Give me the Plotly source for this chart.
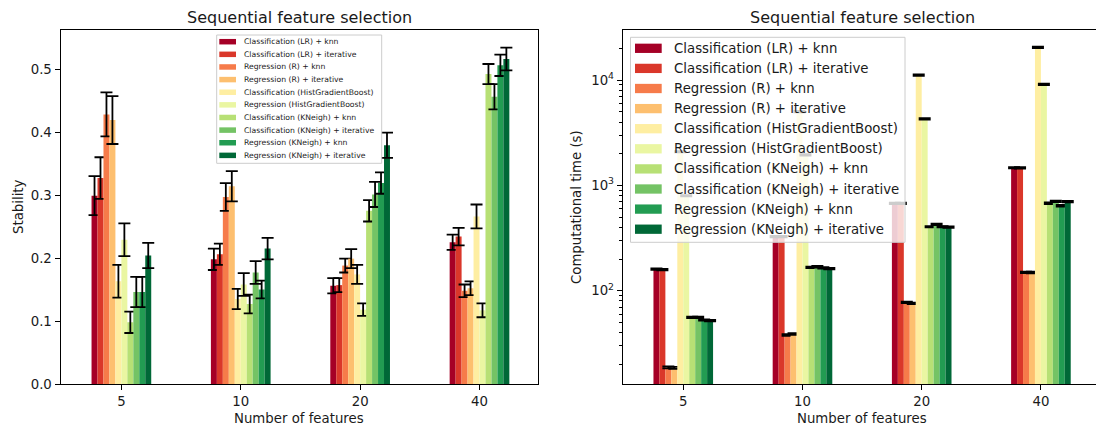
import plotly.graph_objects as go

# ---- data -------------------------------------------------------------
n_features = ["5", "10", "20", "40"]

series_names = [
    "Classification (LR) + knn",
    "Classification (LR) + iterative",
    "Regression (R) + knn",
    "Regression (R) + iterative",
    "Classification (HistGradientBoost)",
    "Regression (HistGradientBoost)",
    "Classification (KNeigh) + knn",
    "Classification (KNeigh) + iterative",
    "Regression (KNeigh) + knn",
    "Regression (KNeigh) + iterative",
]

# stability (mean, std) per number of features
stab_lr_knn = [0.299, 0.198, 0.156, 0.225]
stab_lr_iter = [0.327, 0.206, 0.157, 0.234]
stab_r_knn = [0.428, 0.297, 0.188, 0.148]
stab_r_iter = [0.419, 0.314, 0.199, 0.152]
stab_hgb_clf = [0.163, 0.135, 0.174, 0.266]
stab_hgb_reg = [0.229, 0.158, 0.118, 0.117]
stab_kn_clf_knn = [0.098, 0.127, 0.275, 0.492]
stab_kn_clf_iter = [0.146, 0.177, 0.301, 0.456]
stab_kn_reg_knn = [0.146, 0.150, 0.319, 0.506]
stab_kn_reg_iter = [0.204, 0.215, 0.379, 0.516]

stab_err_lr_knn = [0.031, 0.017, 0.012, 0.012]
stab_err_lr_iter = [0.033, 0.017, 0.011, 0.014]
stab_err_r_knn = [0.035, 0.022, 0.011, 0.010]
stab_err_r_iter = [0.038, 0.024, 0.015, 0.011]
stab_err_hgb_clf = [0.026, 0.016, 0.015, 0.019]
stab_err_hgb_reg = [0.026, 0.018, 0.010, 0.011]
stab_err_kn_clf_knn = [0.017, 0.015, 0.017, 0.016]
stab_err_kn_clf_iter = [0.024, 0.018, 0.020, 0.020]
stab_err_kn_reg_knn = [0.024, 0.014, 0.017, 0.017]
stab_err_kn_reg_iter = [0.020, 0.017, 0.020, 0.018]

# computational time in seconds (mean, std)
time_lr_knn = [160, 326, 676, 1472]
time_lr_iter = [159, 326, 676, 1470]
time_r_knn = [18.7, 37.9, 77.6, 149.6]
time_r_iter = [18.5, 38.8, 75.9, 149]
time_hgb_clf = [2090, 5010, 11170, 20470]
time_hgb_reg = [798, 1946, 4295, 9120]
time_kn_clf_knn = [55.8, 166.7, 405, 676]
time_kn_clf_iter = [55.8, 169, 427, 706]
time_kn_reg_knn = [52.7, 164.4, 405, 641]
time_kn_reg_iter = [51.9, 161.9, 402, 700]

time_err_lr_knn = [2.5, 5, 10, 22]
time_err_lr_iter = [2.5, 5, 10, 22]
time_err_r_knn = [0.4, 0.7, 1.3, 2.5]
time_err_r_iter = [0.4, 0.7, 1.3, 2.5]
time_err_hgb_clf = [30, 80, 180, 350]
time_err_hgb_reg = [12, 30, 70, 130]
time_err_kn_clf_knn = [0.9, 2.8, 6, 12]
time_err_kn_clf_iter = [0.9, 2.8, 7, 12]
time_err_kn_reg_knn = [0.8, 2.6, 6, 11]
time_err_kn_reg_iter = [0.8, 2.6, 6, 11]

stability = [stab_lr_knn, stab_lr_iter, stab_r_knn, stab_r_iter, stab_hgb_clf,
             stab_hgb_reg, stab_kn_clf_knn, stab_kn_clf_iter, stab_kn_reg_knn,
             stab_kn_reg_iter]
stability_err = [stab_err_lr_knn, stab_err_lr_iter, stab_err_r_knn, stab_err_r_iter,
                 stab_err_hgb_clf, stab_err_hgb_reg, stab_err_kn_clf_knn,
                 stab_err_kn_clf_iter, stab_err_kn_reg_knn, stab_err_kn_reg_iter]
comp_time = [time_lr_knn, time_lr_iter, time_r_knn, time_r_iter, time_hgb_clf,
             time_hgb_reg, time_kn_clf_knn, time_kn_clf_iter, time_kn_reg_knn,
             time_kn_reg_iter]
comp_time_err = [time_err_lr_knn, time_err_lr_iter, time_err_r_knn, time_err_r_iter,
                 time_err_hgb_clf, time_err_hgb_reg, time_err_kn_clf_knn,
                 time_err_kn_clf_iter, time_err_kn_reg_knn, time_err_kn_reg_iter]

# RdYlGn sampled at 10 evenly spaced points
colors = ["#a50026", "#da372a", "#f67b4a", "#fdbf6f", "#feeea2",
          "#eaf6a2", "#b7e075", "#74c365", "#229c52", "#006837"]

# ---- layout helpers ---------------------------------------------------
W, H = 1096, 427
FONT = "DejaVu Sans"
TXT = "#1a1a1a"


def px(x):
    return x / W


def py(y):
    return 1 - y / H


fig = go.Figure()

for i, name in enumerate(series_names):
    fig.add_trace(go.Bar(
        x=n_features, y=stability[i], name=name,
        marker=dict(color=colors[i], line=dict(width=0)),
        error_y=dict(type="data", array=stability_err[i], color="black",
                     thickness=1.8, width=6),
        xaxis="x", yaxis="y", showlegend=False,
    ))
    fig.add_trace(go.Bar(
        x=n_features, y=comp_time[i], name=name,
        marker=dict(color=colors[i], line=dict(width=0)),
        error_y=dict(type="data", array=comp_time_err[i], color="black",
                     thickness=1.8, width=6),
        xaxis="x2", yaxis="y2", showlegend=False,
    ))

axis_common = dict(
    showline=True, linecolor="black", linewidth=1,
    ticks="outside", ticklen=5, tickwidth=1, tickcolor="black",
    showgrid=False, zeroline=False, automargin=False,
    tickfont=dict(family=FONT, size=13.3, color=TXT),
)

minor_vals = [m * 10 ** e for e in (1, 2, 3, 4) for m in range(2, 10)]

fig.update_layout(
    width=W, height=H,
    margin=dict(l=0, r=0, t=0, b=0, pad=0, autoexpand=False),
    paper_bgcolor="white", plot_bgcolor="white",
    barmode="group", bargap=0.5, bargroupgap=0,
    font=dict(family=FONT, size=13.3, color=TXT),
    xaxis=dict(axis_common, domain=[px(60.5), px(538)], type="category",
               range=[-0.51, 3.49], mirror=True, anchor="y"),
    yaxis=dict(axis_common, domain=[py(384), py(30)], range=[0, 0.562],
               tickmode="array", tickvals=[0, 0.1, 0.2, 0.3, 0.4, 0.5],
               tickformat=".1f", mirror=True, anchor="x"),
    xaxis2=dict(axis_common, domain=[px(622.7), 1], type="category",
                range=[-0.508, 3.462], mirror=True, anchor="y2"),
    yaxis2=dict(axis_common, domain=[py(384), py(30)], type="log",
                range=[1.114, 4.476], anchor="x2",
                tickmode="array", tickvals=[100, 1000, 10000],
                ticktext=["10<sup>2</sup>", "10<sup>3</sup>", "10<sup>4</sup>"],
                minor=dict(tickmode="array", tickvals=minor_vals, ticklen=3,
                           tickwidth=0.8, tickcolor="black", ticks="outside",
                           showgrid=False)),
)

annotations = []
shapes = []

# titles and axis labels
for cx in (299, 862):
    annotations.append(dict(text="Sequential feature selection", x=px(cx), y=py(17),
                            xref="paper", yref="paper", showarrow=False,
                            xanchor="center", yanchor="middle",
                            font=dict(family=FONT, size=16, color=TXT)))
    annotations.append(dict(text="Number of features", x=px(cx), y=py(418),
                            xref="paper", yref="paper", showarrow=False,
                            xanchor="center", yanchor="middle",
                            font=dict(family=FONT, size=13.3, color=TXT)))
annotations.append(dict(text="Stability", x=px(18), y=py(207), textangle=-90,
                        xref="paper", yref="paper", showarrow=False,
                        xanchor="center", yanchor="middle",
                        font=dict(family=FONT, size=13.3, color=TXT)))
annotations.append(dict(text="Computational time (s)", x=px(576), y=py(207),
                        textangle=-90, xref="paper", yref="paper", showarrow=False,
                        xanchor="center", yanchor="middle",
                        font=dict(family=FONT, size=13.3, color=TXT)))


def add_legend(box, row0, row_step, sw_x0, sw_x1, sw_h, text_x, fsize):
    x0, y0, x1, y1 = box
    shapes.append(dict(type="rect", xref="paper", yref="paper", layer="above",
                       x0=px(x0), x1=px(x1), y0=py(y1), y1=py(y0),
                       fillcolor="rgba(255,255,255,0.8)",
                       line=dict(color="#cccccc", width=1)))
    for i, name in enumerate(series_names):
        yc = row0 + i * row_step
        shapes.append(dict(type="rect", xref="paper", yref="paper", layer="above",
                           x0=px(sw_x0), x1=px(sw_x1),
                           y0=py(yc + sw_h / 2), y1=py(yc - sw_h / 2),
                           fillcolor=colors[i], line=dict(width=0)))
        annotations.append(dict(text=name, x=px(text_x), y=py(yc),
                                xref="paper", yref="paper", showarrow=False,
                                xanchor="left", yanchor="middle",
                                font=dict(family=FONT, size=fsize, color=TXT)))


add_legend((216.7, 35, 381.7, 163.3), 41.7, 12.63, 219.3, 236, 5.5, 241.7, 7.7)
add_legend((630.5, 37.3, 905, 242.3), 48.3, 20.1, 635, 661.7, 9.3, 672.3, 13.3)

fig.update_layout(annotations=annotations, shapes=shapes)

fig.write_html("out.html")
